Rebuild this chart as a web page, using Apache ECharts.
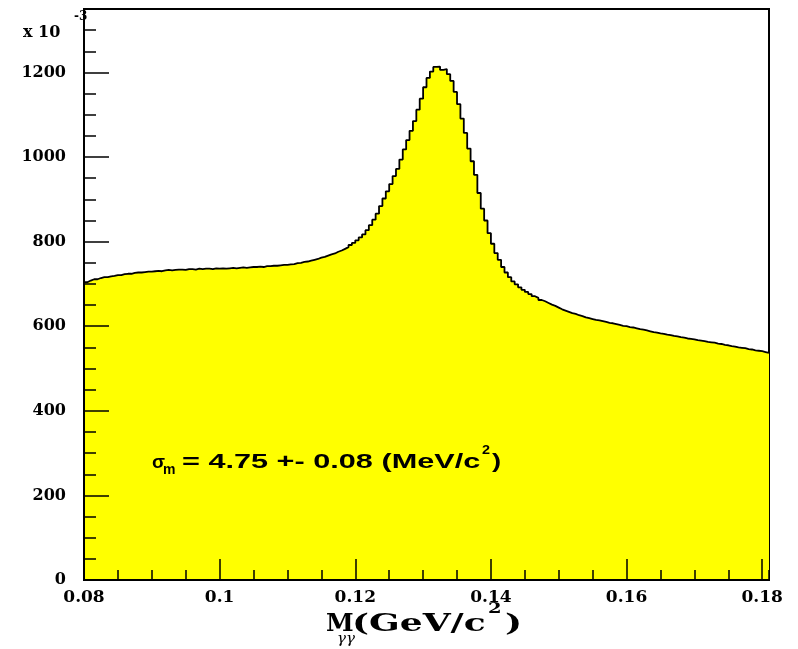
<!DOCTYPE html>
<html>
<head>
<meta charset="utf-8">
<title>M_γγ spectrum</title>
<script src="https://cdn.jsdelivr.net/npm/echarts@6/dist/echarts.min.js"></script>
<style>
  html, body { margin: 0; padding: 0; background: #ffffff; }
  #chart { width: 798px; height: 649px; }
</style>
</head>
<body>
<div id="chart"></div>
<script>
// Histogram binning (GeV/c^2)
const binStart = 0.08;
const binWidth = 0.0005;

// Entries per bin, in units of 10^3
const counts = [
  704, 708, 711, 711, 714, 716, 716, 718, 719, 721, 721, 723, 724, 724, 726, 727, 727, 728, 729, 729,
  730, 731, 730, 732, 733, 732, 733, 734, 734, 733, 735, 735, 734, 736, 735, 736, 736, 735, 737, 736,
  737, 736, 737, 738, 737, 738, 739, 738, 739, 740, 740, 741, 740, 742, 742, 743, 743, 744, 745, 745,
  746, 747, 749, 750, 752, 753, 755, 757, 759, 762, 764, 767, 770, 772, 776, 779, 783, 787, 792, 797,
  803, 810, 817, 827, 839, 852, 866, 884, 902, 919, 936, 955, 972, 994, 1018, 1040, 1062, 1085, 1112, 1138,
  1165, 1187, 1202, 1213, 1214, 1206, 1208, 1196, 1180, 1154, 1125, 1091, 1057, 1020, 990, 958, 915, 878, 850, 820,
  795, 773, 757, 740, 727, 716, 706, 699, 692, 686, 681, 676, 671, 667, 662, 659, 655, 651, 648, 644,
  640, 637, 634, 631, 629, 626, 624, 621, 619, 617, 615, 614, 612, 610, 608, 607, 605, 603, 601, 600,
  598, 597, 595, 593, 592, 590, 588, 586, 585, 583, 582, 580, 579, 577, 576, 574, 573, 571, 570, 569,
  567, 566, 565, 563, 562, 561, 559, 558, 556, 555, 553, 552, 550, 549, 548, 546, 545, 543, 542, 541, 539, 537
];

// Axis ranges and tick spacing
const xRange = [0.08, binStart + counts.length * binWidth];
const xMajor = 0.02;
const xMinor = 0.005;
const yRange = [0, 1350];
const yMajor = 200;
const yMinor = 50;

// Fit result shown on the plot
const fitLabel = { sigma: '4.75', err: '0.08' };

// Step outline: each point sits at a bin's lower edge, plus the closing upper edge
const stepData = counts.map((v, i) => [+(binStart + i * binWidth).toFixed(5), v]);
stepData.push([xRange[1], counts[counts.length - 1]]);

const serifBold = { fontFamily: 'DejaVu Serif', fontWeight: 'bold', color: '#000' };

// Text helper for the free-standing labels
function label(text, x, y, size, opts) {
  const o = opts || {};
  return {
    type: 'text', x: x, y: y, z: 10,
    scaleX: o.scaleX || 1,
    style: {
      text: text,
      fontSize: size,
      fontFamily: o.family || 'DejaVu Serif',
      fontWeight: o.weight || 'bold',
      fontStyle: o.style || 'normal',
      fill: '#000',
      align: 'left',
      verticalAlign: 'top'
    }
  };
}

const chart = echarts.init(document.getElementById('chart'), null, { renderer: 'canvas' });

chart.setOption({
  animation: false,
  backgroundColor: '#ffffff',
  grid: {
    left: 84, right: 29, top: 9, bottom: 69,
    show: true, borderColor: '#000', borderWidth: 2, backgroundColor: 'transparent'
  },
  xAxis: [
    {
      type: 'value', min: xRange[0], max: xRange[1], interval: xMajor, z: 5,
      axisLine: { show: true, lineStyle: { color: '#000', width: 2 } },
      axisTick: { show: true, inside: true, length: 21, lineStyle: { color: '#000', width: 1.5 } },
      axisLabel: { show: true, margin: 9, showMaxLabel: false, fontSize: 17, ...serifBold,
                   formatter: v => String(+v.toFixed(3)) },
      splitLine: { show: false }
    },
    {
      type: 'value', min: xRange[0], max: xRange[1], interval: xMinor, z: 5, position: 'bottom',
      axisLine: { show: false },
      axisTick: { show: true, inside: true, length: 10, lineStyle: { color: '#000', width: 1.5 } },
      axisLabel: { show: false },
      splitLine: { show: false }
    }
  ],
  yAxis: [
    {
      type: 'value', min: yRange[0], max: yRange[1], interval: yMajor, z: 5,
      axisLine: { show: true, lineStyle: { color: '#000', width: 2 } },
      axisTick: { show: true, inside: true, length: 25, lineStyle: { color: '#000', width: 1.5 } },
      axisLabel: { show: true, margin: 18, showMaxLabel: false, fontSize: 16, ...serifBold,
                   formatter: v => String(v) },
      splitLine: { show: false }
    },
    {
      type: 'value', min: yRange[0], max: yRange[1], interval: yMinor, z: 5, position: 'left',
      axisLine: { show: false },
      axisTick: { show: true, inside: true, length: 12, lineStyle: { color: '#000', width: 1.5 } },
      axisLabel: { show: false },
      splitLine: { show: false }
    }
  ],
  series: [
    {
      type: 'line',
      xAxisIndex: 0,
      yAxisIndex: 0,
      step: 'end',
      symbol: 'none',
      data: stepData,
      lineStyle: { color: '#000', width: 1.8 },
      areaStyle: { color: '#ffff00', opacity: 1 },
      z: 2
    }
  ],
  graphic: [
    // axis multiplier
    label('x 10', 23, 25, 16),
    label('-3', 74, 11, 12),
    // x axis title M_γγ (GeV/c^2)
    label('M', 326, 612, 25),
    label('γγ', 337, 632, 15, { weight: 'normal', style: 'italic' }),
    label('(GeV/c', 352, 612, 25, { scaleX: 1.44 }),
    label('2', 488, 602, 15, { scaleX: 1.3 }),
    label(')', 505, 612, 25, { scaleX: 1.45 }),
    // fit result
    label('σ', 152, 453, 19, { family: 'Liberation Sans' }),
    label('m', 163, 463, 14, { family: 'Liberation Sans' }),
    label('= ' + fitLabel.sigma + ' +- ' + fitLabel.err + ' (MeV/c', 182, 452, 21,
          { family: 'Liberation Sans', scaleX: 1.46 }),
    label('2', 482, 445, 12, { family: 'Liberation Sans', scaleX: 1.2 }),
    label(')', 492, 452, 21, { family: 'Liberation Sans', scaleX: 1.3 })
  ]
});
</script>
</body>
</html>
